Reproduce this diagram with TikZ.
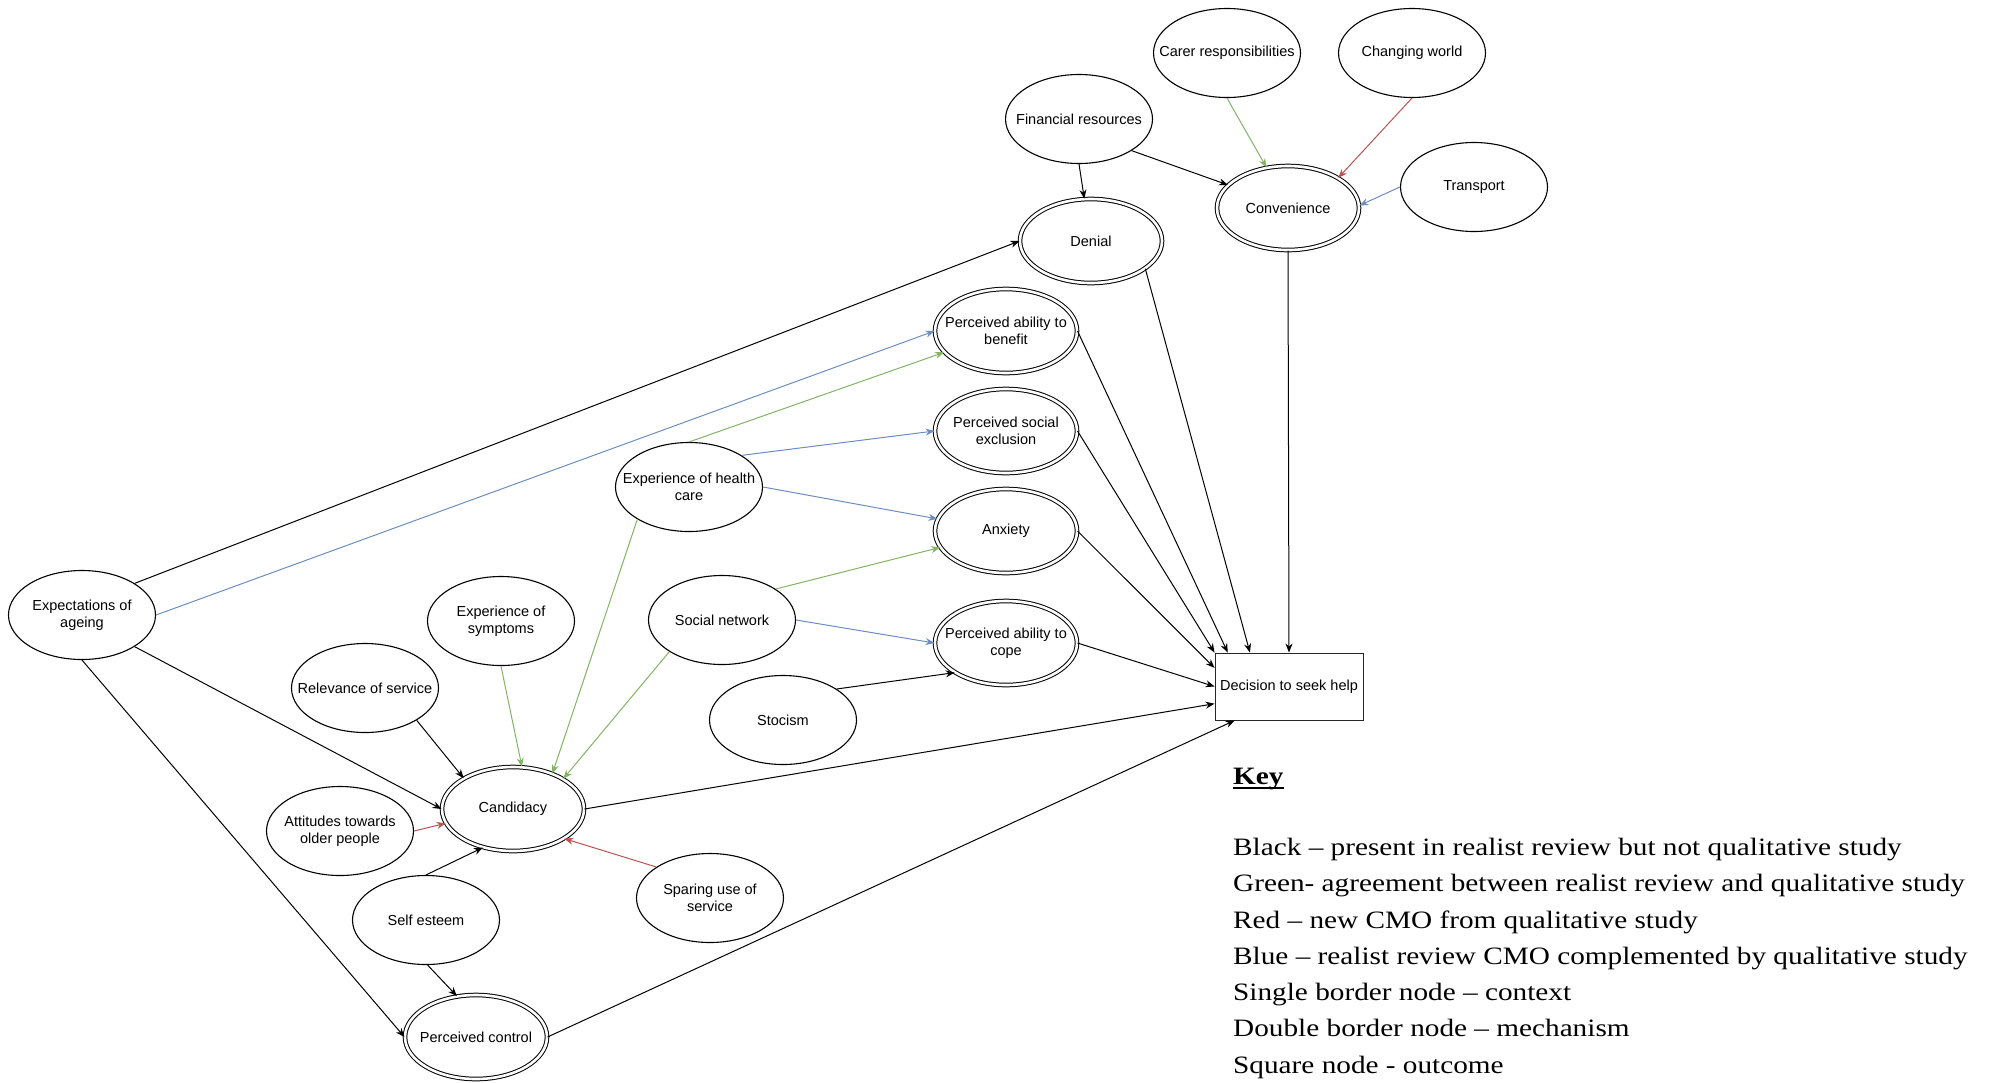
\documentclass[tikz,border=0pt]{standalone}
\usepackage{fontspec}
\usepackage{graphicx}
\usetikzlibrary{shapes.geometric,arrows.meta}

\newfontfamily\nodefont{Liberation Sans}
\newfontfamily\keyfont{Liberation Serif}

\definecolor{cmogreen}{HTML}{82B366}
\definecolor{cmored}{HTML}{B85450}
\definecolor{cmoblue}{HTML}{6C8EBF}

% bold heading with a heavy underline
\newcommand{\keyunder}[1]{\setbox0\hbox{#1}\rlap{\rule[-5pt]{\wd0}{2pt}}\box0}
% an ellipse/box node with its caption centred inside
\newcommand{\placenode}[4]{%
  \node[#1] (#2) at (#3) {};
  \node[lbl] (#2-t) at (#2) {#4};}
% one line of the legend
\newcommand{\keyentry}[3]{%
  \node[keyline] (#1) at (#2) {\scalebox{1.17}[1]{#3}};}

\tikzset{
  ctx/.style={ellipse, draw, line width=1.1pt, minimum width=147pt,
    minimum height=89pt, inner sep=0pt},
  mech/.style={ellipse, draw, double, double distance=2.6pt, line width=1pt,
    minimum width=142pt, minimum height=84pt, inner sep=0pt},
  outc/.style={rectangle, draw=black!85, line width=0.9pt, minimum width=148pt,
    minimum height=67pt, inner sep=0pt},
  lbl/.style={font=\nodefont\fontsize{14.5}{16.5}\selectfont, align=center,
    inner sep=0pt},
  keyline/.style={font=\keyfont\fontsize{25}{30}\selectfont, anchor=base west,
    inner sep=0pt},
  link/.style={line width=1pt, -{Stealth[length=9pt,width=7pt]}},
  blk/.style={link, draw=black},
  grn/.style={link, draw=cmogreen},
  rd/.style={link, draw=cmored},
  blu/.style={link, draw=cmoblue}
}

\begin{document}
\begin{tikzpicture}[x=1pt,y=-1pt]
\useasboundingbox (0,0) rectangle (1992,1082);

% contexts (single border)
\placenode{ctx}{car}{1227,53}{Carer responsibilities}
\placenode{ctx}{chg}{1412,53}{Changing world}
\placenode{ctx}{fin}{1079,119}{Financial resources}
\placenode{ctx}{trans}{1474,187}{Transport}
\placenode{ctx}{ehc}{689,487}{Experience of health\\care}
\placenode{ctx}{soc}{722,620}{Social network}
\placenode{ctx}{sto}{783,720}{Stocism}
\placenode{ctx}{sym}{501,621}{Experience of\\symptoms}
\placenode{ctx}{rel}{365,688}{Relevance of service}
\placenode{ctx}{exp}{82,615}{Expectations of\\ageing}
\placenode{ctx}{att}{340,831}{Attitudes towards\\older people}
\placenode{ctx}{se}{426,920}{Self esteem}
\placenode{ctx}{spa}{710,898}{Sparing use of\\service}

% mechanisms (double border)
\placenode{mech}{conv}{1288,208}{Convenience}
\placenode{mech}{den}{1091,241}{Denial}
\placenode{mech}{pab}{1006,331}{Perceived ability to\\benefit}
\placenode{mech}{pse}{1006,431}{Perceived social\\exclusion}
\placenode{mech}{anx}{1006,531}{Anxiety}
\placenode{mech}{pac}{1006,643}{Perceived ability to\\cope}
\placenode{mech}{cand}{513,809}{Candidacy}
\placenode{mech}{pc}{476,1037}{Perceived control}

% outcome
\placenode{outc}{dec}{1289,686.5}{Decision to seek help}

% black: realist review only
\draw[blk] (fin.south) -- (den.99);
\draw[blk] (fin.-31) -- (conv.159);
\draw[blk] (exp.31) -- (den.west);
\draw[blk] (exp.-31) -- (cand.west);
\draw[blk] (exp.south) -- (pc.west);
\draw[blk] (rel.-32) -- (cand.148);
\draw[blk] (se.north) -- (cand.232);
\draw[blk] (se.-88) -- (pc.115);
\draw[blk] (sto.30) -- (pac.210);
\draw[blk] (den.-27) -- (dec.139);
\draw[blk] (conv.south) -- (dec.north);
\draw[blk] (pab.east) -- (dec.151);
\draw[blk] (pse.east) -- (dec.north west);
\draw[blk] (anx.east) -- (dec.166);
\draw[blk] (pac.east) -- (dec.west);
\draw[blk] (cand.east) -- (dec.193);
\draw[blk] (pc.east) -- (dec.212);

% green: agreement
\draw[grn] (car.south) -- (conv.118);
\draw[grn] (ehc.north) -- (pab.199);
\draw[grn] (soc.30) -- (anx.194);
\draw[grn] (ehc.212) -- (cand.42);
\draw[grn] (soc.211) -- (cand.31);
\draw[grn] (sym.south) -- (cand.78);

% red: new from qualitative study
\draw[rd] (chg.south) -- (conv.31);
\draw[rd] (att.east) -- (cand.192);
\draw[rd] (spa.150) -- (cand.-30);

% blue: complemented
\draw[blu] (trans.west) -- (conv.2);
\draw[blu] (exp.east) -- (pab.west);
\draw[blu] (ehc.31) -- (pse.west);
\draw[blu] (ehc.east) -- (anx.170);
\draw[blu] (soc.east) -- (pac.west);

% legend
\keyentry{keyhead}{1233,784}{\bfseries\keyunder{Key}}
\keyentry{k1}{1233,855}{Black – present in realist review but not qualitative study}
\keyentry{k2}{1233,891.5}{Green- agreement between realist review and qualitative study}
\keyentry{k3}{1233,928}{Red – new CMO from qualitative study}
\keyentry{k4}{1233,964}{Blue – realist review CMO complemented by qualitative study}
\keyentry{k5}{1233,1000}{Single border node – context}
\keyentry{k6}{1233,1036.5}{Double border node – mechanism}
\keyentry{k7}{1233,1073}{Square node - outcome}
\end{tikzpicture}
\end{document}
